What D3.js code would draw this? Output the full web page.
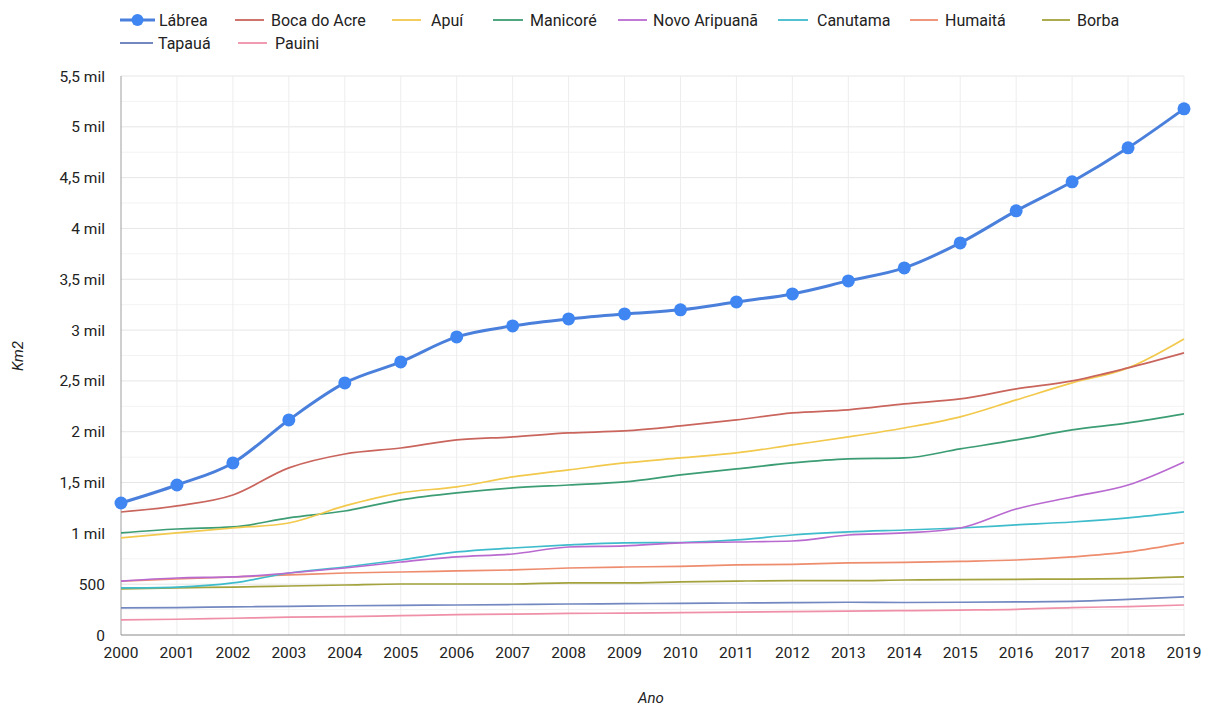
<!DOCTYPE html>
<html><head><meta charset="utf-8">
<script src="https://cdn.jsdelivr.net/npm/d3@7"></script>
<style>body{margin:0;background:#fff;}svg{display:block;font-family:Roboto,"Noto Sans",sans-serif;}</style>
</head><body>
<svg id="c" width="1214" height="709"></svg>
<script>
const years = d3.range(2000, 2020);
const labrea = [1299,1476,1693,2116,2480,2687,2933,3041,3110,3159,3199,3277,3356,3484,3612,3858,4173,4459,4793,5177];
const bocaDoAcre = [1210,1270,1378,1644,1781,1840,1919,1949,1988,2008,2057,2116,2185,2215,2274,2323,2421,2500,2628,2776];
const apui = [955,1004,1053,1102,1270,1398,1457,1555,1624,1693,1742,1791,1870,1949,2037,2146,2313,2480,2628,2913];
const manicore = [1004,1043,1063,1152,1220,1329,1398,1447,1476,1506,1575,1634,1693,1732,1742,1831,1919,2018,2087,2175];
const novoAripuana = [531,561,571,610,659,718,768,797,866,876,906,915,925,984,1004,1053,1240,1358,1476,1703];
const canutama = [463,472,512,610,669,738,817,856,886,906,910,935,984,1014,1033,1053,1083,1112,1152,1211];
const humaita = [531,551,571,591,610,620,630,640,659,669,675,689,695,709,715,725,738,768,817,906];
const borba = [453,463,472,482,492,502,502,502,512,512,522,530,535,535,541,545,548,550,555,571];
const tapaua = [266,270,276,282,288,292,295,300,305,308,312,315,318,322,320,322,325,330,350,375];
const pauini = [148,155,165,175,180,190,200,205,212,215,220,225,230,235,240,245,252,270,280,295];
const seriesNames = ["Lábrea","Boca do Acre","Apuí","Manicoré","Novo Aripuanã","Canutama","Humaitá","Borba","Tapauá","Pauini"];
const seriesValues = [labrea,bocaDoAcre,apui,manicore,novoAripuana,canutama,humaita,borba,tapaua,pauini];
const colors = ["#4a80dc","#c9655d","#f2c94c","#3c9d74","#b96ad0","#3fbccc","#ee8c6e","#a3a23c","#7388c0","#ef90a8"];
const yTicks = [0,500,1000,1500,2000,2500,3000,3500,4000,4500,5000,5500];
const yTickLabels = ["0","500","1 mil","1,5 mil","2 mil","2,5 mil","3 mil","3,5 mil","4 mil","4,5 mil","5 mil","5,5 mil"];

const svg = d3.select("#c");
const L = 121, R = 1184, T = 76, B = 635;
const x = d3.scaleLinear().domain([2000,2019]).range([L,R]);
const y = d3.scaleLinear().domain([0,5500]).range([B,T]);

// grid
const g = svg.append("g");
g.selectAll(".minor").data(d3.range(250,5500,500)).join("line")
  .attr("x1",L).attr("x2",R).attr("y1",d=>y(d)).attr("y2",d=>y(d))
  .attr("stroke","#f3f3f3").attr("stroke-width",1);
g.selectAll(".major").data(yTicks.slice(1)).join("line")
  .attr("x1",L).attr("x2",R).attr("y1",d=>y(d)).attr("y2",d=>y(d))
  .attr("stroke","#e6e6e6").attr("stroke-width",1);
g.selectAll(".vg").data(years.slice(1)).join("line")
  .attr("x1",d=>x(d)).attr("x2",d=>x(d)).attr("y1",T).attr("y2",B)
  .attr("stroke","#ededed").attr("stroke-width",1);
svg.append("line").attr("x1",L).attr("x2",L).attr("y1",T).attr("y2",B).attr("stroke","#9e9e9e").attr("stroke-width",1);

// y labels
svg.append("g").selectAll("text").data(yTicks).join("text")
  .attr("x",105).attr("y",d=>y(d)+5.5).attr("text-anchor","end")
  .attr("font-size",15.5).attr("fill","#222").text((d,i)=>yTickLabels[i]);
// x labels
svg.append("g").selectAll("text").data(years).join("text")
  .attr("x",d=>x(d)).attr("y",658).attr("text-anchor","middle")
  .attr("font-size",15.5).attr("fill","#222").text(d=>d);

svg.append("text").attr("transform","translate(23,356) rotate(-90)").attr("text-anchor","middle")
  .attr("font-size",15).attr("font-style","italic").attr("fill","#222").text("Km2");
svg.append("text").attr("x",651).attr("y",703).attr("text-anchor","middle")
  .attr("font-size",15).attr("font-style","italic").attr("fill","#222").text("Ano");

const line = d3.line().x((d,i)=>x(years[i])).y(d=>y(d)).curve(d3.curveMonotoneX);
for (let s = seriesValues.length-1; s >= 1; s--) {
  svg.append("path").attr("d",line(seriesValues[s])).attr("fill","none")
    .attr("stroke",colors[s]).attr("stroke-width",1.7);
}
svg.append("path").attr("d",line(labrea)).attr("fill","none").attr("stroke",colors[0]).attr("stroke-width",3);
svg.append("g").selectAll("circle").data(labrea).join("circle")
  .attr("cx",(d,i)=>x(years[i])).attr("cy",d=>y(d)).attr("r",6.5).attr("fill","#3f86f2");
svg.append("line").attr("x1",L).attr("x2",R+1).attr("y1",B).attr("y2",B).attr("stroke","#8a8a8a").attr("stroke-width",1.2);

// legend: [lineStart, lineEnd, textX, rowY]
const legPos = [[120,155,159,20],[235,264,271,20],[392,421,431,20],[493,523,530,20],[618,647,653,20],[778,808,817,20],[910,938,945,20],[1042,1070,1077,20],[120,153,158,43],[238,267,275,43]];
const lg = svg.append("g");
seriesNames.forEach((n,i)=>{
  const [x1,x2,tx,ly] = legPos[i];
  lg.append("line").attr("x1",x1).attr("x2",x2).attr("y1",ly).attr("y2",ly).attr("stroke",colors[i]).attr("stroke-width",i===0?3:1.8);
  if (i===0) lg.append("circle").attr("cx",(x1+x2)/2).attr("cy",ly).attr("r",6).attr("fill","#3f86f2");
  lg.append("text").attr("x",tx).attr("y",ly+5.5).attr("font-size",16).attr("fill","#222").text(n);
});
</script>
</body></html>
